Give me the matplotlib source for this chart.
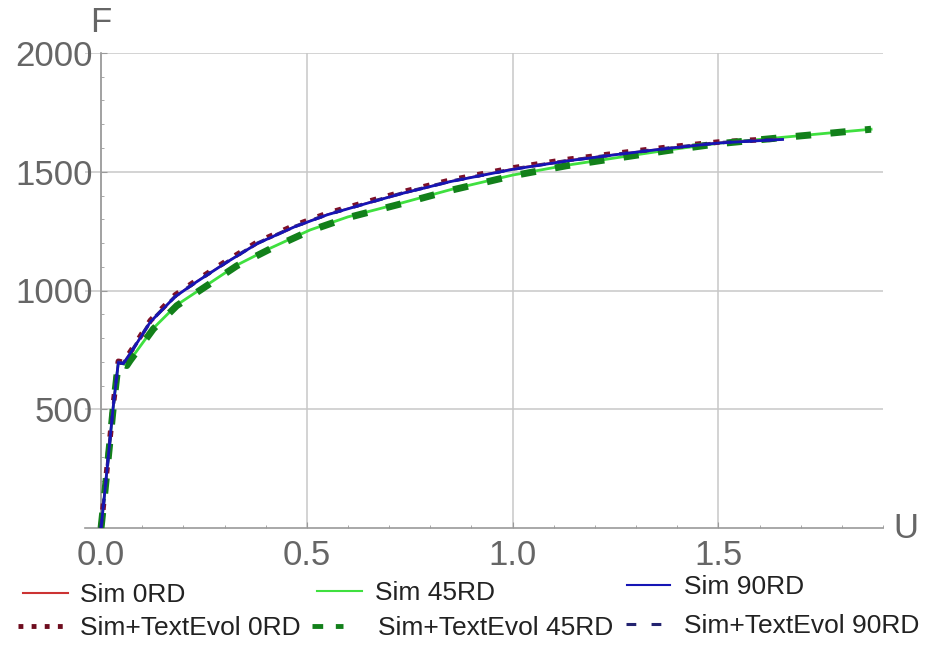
import numpy as np
import matplotlib.pyplot as plt
from matplotlib.ticker import MultipleLocator

plt.rcParams['font.family'] = ['Liberation Sans', 'DejaVu Sans']

# displacement U and force F
u_0 = [0.0, 0.01, 0.02, 0.03, 0.042, 0.054, 0.08, 0.12, 0.18, 0.23, 0.30,
       0.38, 0.47, 0.55, 0.65, 0.73, 0.85, 1.0, 1.13, 1.26, 1.38, 1.5, 1.58, 1.656]
f_sim_0 = [0, 170, 345, 520, 698, 693, 760, 869, 975, 1035, 1114,
           1199, 1269, 1320, 1370, 1409, 1460, 1512, 1547, 1575, 1600, 1622, 1630, 1637]
f_tex_0 = [0, 172, 348, 524, 702, 697, 765, 874, 981, 1040, 1119,
           1204, 1274, 1325, 1375, 1414, 1465, 1516, 1551, 1579, 1604, 1625, 1633, 1639]
f_sim_90 = [0, 168, 343, 518, 697, 692, 759, 868, 974, 1034, 1113,
            1198, 1268, 1319, 1369, 1408, 1459, 1510, 1545, 1574, 1599, 1621, 1629, 1636]
f_tex_90 = [0, 169, 344, 519, 698, 693, 760, 869, 975, 1035, 1114,
            1199, 1269, 1320, 1370, 1409, 1460, 1511, 1546, 1575, 1600, 1622, 1630, 1637]

u_45 = [0.0, 0.01, 0.02, 0.03, 0.042, 0.0625, 0.0706, 0.127, 0.184, 0.257, 0.33,
        0.411, 0.508, 0.6, 0.727, 0.85, 1.0, 1.13, 1.26, 1.38, 1.5, 1.656, 1.781, 1.871]
f_sim_45 = [0, 165, 340, 515, 698, 686, 707, 841, 939, 1023, 1107,
            1178, 1255, 1310, 1367, 1425, 1486, 1527, 1561, 1592, 1620, 1645, 1665, 1679]
f_tex_45 = [0, 163, 338, 513, 696, 684, 705, 838, 936, 1020, 1104,
            1175, 1252, 1307, 1364, 1422, 1483, 1525, 1559, 1590, 1618, 1644, 1664, 1679]

x_ticks = [0.0, 0.5, 1.0, 1.5]
x_tick_labels = ['0.0', '0.5', '1.0', '1.5']
y_ticks = [500, 1000, 1500, 2000]
y_tick_labels = ['500', '1000', '1500', '2000']

fig = plt.figure(figsize=(9.25, 6.45), dpi=100)
ax = fig.add_axes([85 / 925, 1 - 528 / 645, (883 - 85) / 925, (528 - 53) / 645])

ax.plot(u_45, f_sim_45, color='#3fe03f', lw=2.0, zorder=3)
ax.plot(u_0, f_tex_0, color='#7d1028', lw=4, dashes=(1.1, 2.2), zorder=4)
ax.plot(u_45, f_tex_45, color='#12801a', lw=5, dashes=(2.2, 2.8), zorder=4)
ax.plot(u_0, f_tex_90, color='#232370', lw=2.5, dashes=(2.5, 3.5), zorder=5)
ax.plot(u_0, f_sim_0, color='#cc3333', lw=1.5, zorder=5)
ax.plot(u_0, f_sim_90, color='#1515b5', lw=2.0, zorder=6)

ax.set_xlim(-0.039, 1.90)
ax.set_ylim(0, 2000)
ax.spines['left'].set_position(('data', 0))
for s in ['top', 'right']:
    ax.spines[s].set_visible(False)
for s in ['left', 'bottom']:
    ax.spines[s].set_color('#9a9a9a')
    ax.spines[s].set_linewidth(1.2)

ax.set_xticks(x_ticks, x_tick_labels)
ax.set_yticks(y_ticks, y_tick_labels)
ax.xaxis.set_minor_locator(MultipleLocator(0.1))
ax.yaxis.set_minor_locator(MultipleLocator(100))
ax.tick_params(which='both', direction='in', color='#9a9a9a')
ax.tick_params(which='major', length=4, labelsize=25, labelcolor='#666666')
ax.tick_params(axis='x', which='major', pad=8)
ax.tick_params(axis='y', which='major', pad=6)
ax.tick_params(which='minor', length=2)
ax.grid(True, which='major', color='#c8c8c8', lw=1.1)
ax.set_axisbelow(True)

fig.text(90 / 925, 1 - 22 / 645, 'F', fontsize=25, color='#666666', ha='left', va='center')
fig.text(893 / 925, 1 - 528 / 645, 'U', fontsize=25, color='#666666', ha='left', va='center')

# legend: Mathematica-style loose placement, one entry at a time
leg_size = 19
em = leg_size * 100 / 72

entries = [
    (plt.Line2D([], [], color='#cc3333', lw=1.5), 'Sim 0RD', 23, 595, 45, 80),
    (plt.Line2D([], [], color='#6e0c1e', lw=3.5, dashes=(1.0, 1.7)), 'Sim+TextEvol 0RD', 18, 628, 50, 80),
    (plt.Line2D([], [], color='#3fe03f', lw=1.5), 'Sim 45RD', 317, 593, 45, 375),
    (plt.Line2D([], [], color='#12801a', lw=3.5, dashes=(2.2, 2.6)), 'Sim+TextEvol 45RD', 312, 628, 31, 378),
    (plt.Line2D([], [], color='#1515b5', lw=1.5), 'Sim 90RD', 627, 587, 43, 684),
    (plt.Line2D([], [], color='#232370', lw=2.2, dashes=(3.2, 5.0)), 'Sim+TextEvol 90RD', 626, 626, 37, 684),
]
for handle, label, x0, yc, hlen, xt in entries:
    leg = fig.legend([handle], [label], loc='center left',
                     bbox_to_anchor=(x0 / 925, 1 - yc / 645),
                     frameon=False, borderpad=0, borderaxespad=0,
                     handlelength=hlen / em, handletextpad=(xt - x0 - hlen) / em,
                     prop={'size': leg_size})
    for t in leg.get_texts():
        t.set_color('#222222')

fig.savefig('out.png', dpi=100)
